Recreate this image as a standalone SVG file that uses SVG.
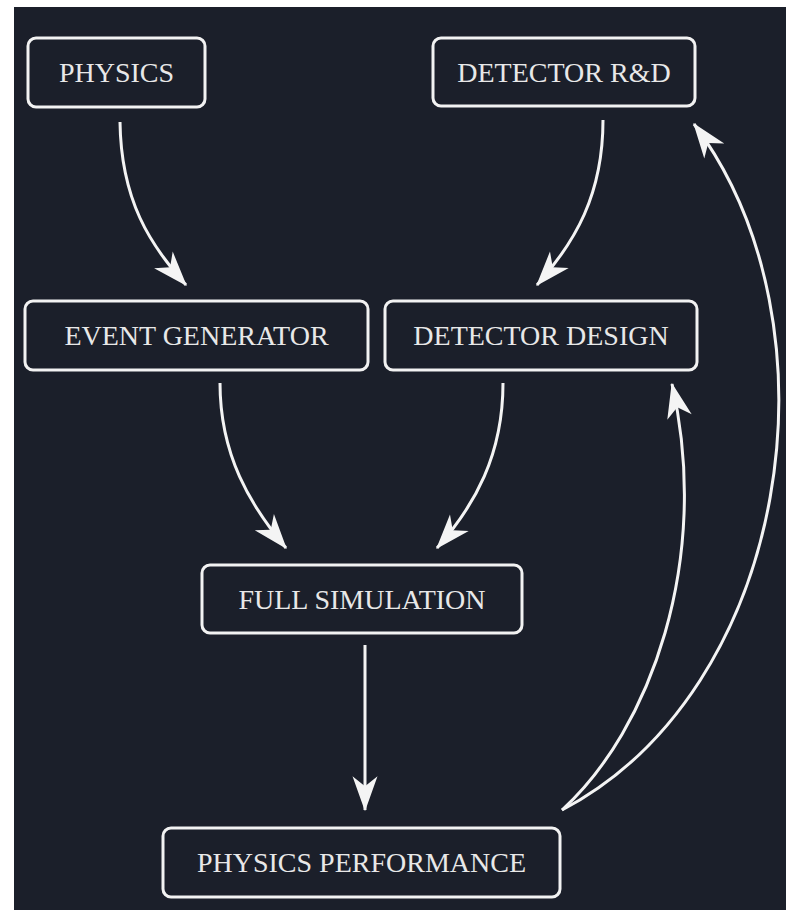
<svg xmlns="http://www.w3.org/2000/svg" width="786" height="910" viewBox="0 0 786 910">
  <defs>
    <style>
      .box { fill: #1b1f2a; stroke: #f2f2f2; stroke-width: 3; }
      .lbl { font-family: "Liberation Serif", "DejaVu Serif", serif; font-size: 28px; fill: #e8e8e8; text-anchor: middle; }
      .edge { fill: none; stroke: #f4f4f4; stroke-width: 3; marker-end: url(#arrow); }
    </style>
    <marker id="arrow" markerUnits="userSpaceOnUse" markerWidth="40" markerHeight="30" viewBox="-30 -12 32 24" refX="0" refY="0" orient="auto">
      <path d="M1,0 L-27,-10 L-19,0 L-27,10 Z" fill="#f4f4f4"/>
    </marker>
  </defs>
  <rect x="0" y="0" width="786" height="910" fill="#ffffff"/>
  <rect x="14" y="7" width="772" height="903" fill="#1b1f2a"/>

  <g id="connectors">
    <path class="edge" d="M120,122 C121,200 150,245 186,285"/>
    <path class="edge" d="M603,120 C603,195 575,242 537,285"/>
    <path class="edge" d="M220,383 C220,455 250,505 286,548"/>
    <path class="edge" d="M503,383 C503,455 475,505 437,548"/>
    <path class="edge" d="M365,645 L365,810"/>
    <path class="edge" d="M562,810 C650,730 712,560 672,384"/>
    <path class="edge" d="M562,810 C790,690 845,325 694,124"/>
  </g>

  <g id="physics">
    <rect class="box" x="28" y="38" width="177" height="69" rx="8"/>
    <text class="lbl" x="116.5" y="82">PHYSICS</text>
  </g>
  <g id="detector-rd">
    <rect class="box" x="433" y="38" width="262" height="68" rx="8"/>
    <text class="lbl" x="564" y="82">DETECTOR R&amp;D</text>
  </g>
  <g id="event-generator">
    <rect class="box" x="25" y="301" width="343" height="69" rx="8"/>
    <text class="lbl" x="196.5" y="345">EVENT GENERATOR</text>
  </g>
  <g id="detector-design">
    <rect class="box" x="385" y="301" width="312" height="69" rx="8"/>
    <text class="lbl" x="541" y="345">DETECTOR DESIGN</text>
  </g>
  <g id="full-simulation">
    <rect class="box" x="202" y="565" width="320" height="68" rx="8"/>
    <text class="lbl" x="362" y="609">FULL SIMULATION</text>
  </g>
  <g id="physics-performance">
    <rect class="box" x="163" y="828" width="397" height="69" rx="8"/>
    <text class="lbl" x="361.5" y="872">PHYSICS PERFORMANCE</text>
  </g>
</svg>
